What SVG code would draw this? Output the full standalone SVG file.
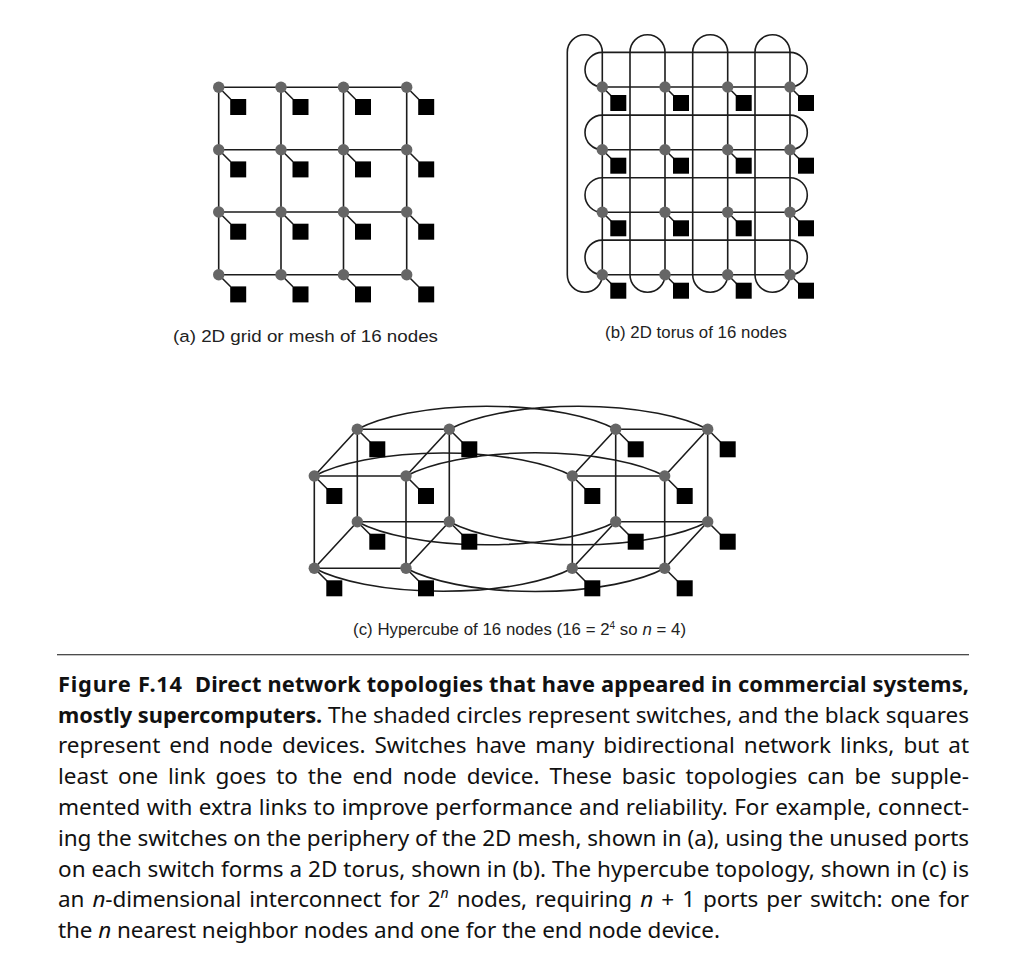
<svg xmlns="http://www.w3.org/2000/svg" width="1024" height="972" viewBox="0 0 1024 972">
<style>
.l{fill:none;stroke:#1c1c1c;stroke-width:1.6}
.s{fill:#666}
.q{fill:#000}
.lab{font-family:"Liberation Sans",Arial,sans-serif;font-size:16.8px;fill:#222}
.cap{font-family:"Noto Sans",sans-serif;font-size:22.5px;fill:#111}
.b{font-weight:700;font-size:21.8px}
.i{font-style:italic}
</style>
<defs>
<g id="na"><line class="l" x1="0" y1="0" x2="12" y2="12"/><circle class="s" r="5.7"/><rect class="q" x="11.5" y="11.7" width="16" height="16"/></g>
<g id="nb"><line class="l" x1="0" y1="0" x2="9" y2="9"/><circle class="s" r="5.7"/><rect class="q" x="8" y="8" width="16" height="16"/></g>
<g id="nc"><line class="l" x1="0" y1="0" x2="13" y2="13"/><circle class="s" r="5.7"/><rect class="q" x="12" y="12" width="16" height="16"/></g>
</defs>
<rect width="1024" height="972" fill="#fff"/>
<g id="connectors">
<path class="l" d="M218.7,87.3H406.7M218.7,149.7H406.7M218.7,212H406.7M218.7,274.7H406.7M218.7,87.3V274.7M281,87.3V274.7M343.5,87.3V274.7M406.7,87.3V274.7"/>
<path class="l" d="M602.3,87A17.3,17.3 0 0 1 602.3,52.4H790A17.3,17.3 0 0 1 790,87H602.3M602.3,149.7A17.3,17.3 0 0 1 602.3,115.1H790A17.3,17.3 0 0 1 790,149.7H602.3M602.3,212.3A17.3,17.3 0 0 1 602.3,177.7H790A17.3,17.3 0 0 1 790,212.3H602.3M602.3,274.7A17.3,17.3 0 0 1 602.3,240.1H790A17.3,17.3 0 0 1 790,274.7H602.3"/>
<path class="l" d="M602.3,274.7V52.3A17.5,17.5 0 0 0 567.3,52.3V274.7A17.5,17.5 0 0 0 602.3,274.7M665,274.7V52.3A17.5,17.5 0 0 0 630,52.3V274.7A17.5,17.5 0 0 0 665,274.7M727.7,274.7V52.3A17.5,17.5 0 0 0 692.7,52.3V274.7A17.5,17.5 0 0 0 727.7,274.7M790,274.7V52.3A17.5,17.5 0 0 0 755,52.3V274.7A17.5,17.5 0 0 0 790,274.7"/>
<path class="l" d="M357.3,429.3H449.3V521.7H357.3ZM615.7,429.3H707.7V521.7H615.7ZM314.3,476H406V568.3H314.3ZM572.3,476H664.7V568.3H572.3Z"/>
<path class="l" d="M357.3,429.3L314.3,476M449.3,429.3L406,476M357.3,521.7L314.3,568.3M449.3,521.7L406,568.3M615.7,429.3L572.3,476M707.7,429.3L664.7,476M615.7,521.7L572.3,568.3M707.7,521.7L664.7,568.3"/>
<path class="l" d="M357.3,429.3A150,47 0 0 1 615.7,429.3M449.3,429.3A150,47 0 0 1 707.7,429.3M314.3,476A150,47 0 0 1 572.3,476M406,476A150,47 0 0 1 664.7,476"/>
<path class="l" d="M357.3,521.7A150,47 0 0 0 615.7,521.7M449.3,521.7A150,47 0 0 0 707.7,521.7M314.3,568.3A150,47 0 0 0 572.3,568.3M406,568.3A150,47 0 0 0 664.7,568.3"/>
</g>
<g id="a00" transform="translate(218.7,87.3)"><use href="#na"/></g>
<g id="a01" transform="translate(281,87.3)"><use href="#na"/></g>
<g id="a02" transform="translate(343.5,87.3)"><use href="#na"/></g>
<g id="a03" transform="translate(406.7,87.3)"><use href="#na"/></g>
<g id="a10" transform="translate(218.7,149.7)"><use href="#na"/></g>
<g id="a11" transform="translate(281,149.7)"><use href="#na"/></g>
<g id="a12" transform="translate(343.5,149.7)"><use href="#na"/></g>
<g id="a13" transform="translate(406.7,149.7)"><use href="#na"/></g>
<g id="a20" transform="translate(218.7,212)"><use href="#na"/></g>
<g id="a21" transform="translate(281,212)"><use href="#na"/></g>
<g id="a22" transform="translate(343.5,212)"><use href="#na"/></g>
<g id="a23" transform="translate(406.7,212)"><use href="#na"/></g>
<g id="a30" transform="translate(218.7,274.7)"><use href="#na"/></g>
<g id="a31" transform="translate(281,274.7)"><use href="#na"/></g>
<g id="a32" transform="translate(343.5,274.7)"><use href="#na"/></g>
<g id="a33" transform="translate(406.7,274.7)"><use href="#na"/></g>
<g id="b00" transform="translate(602.3,87)"><use href="#nb"/></g>
<g id="b01" transform="translate(665,87)"><use href="#nb"/></g>
<g id="b02" transform="translate(727.7,87)"><use href="#nb"/></g>
<g id="b03" transform="translate(790,87)"><use href="#nb"/></g>
<g id="b10" transform="translate(602.3,149.7)"><use href="#nb"/></g>
<g id="b11" transform="translate(665,149.7)"><use href="#nb"/></g>
<g id="b12" transform="translate(727.7,149.7)"><use href="#nb"/></g>
<g id="b13" transform="translate(790,149.7)"><use href="#nb"/></g>
<g id="b20" transform="translate(602.3,212.3)"><use href="#nb"/></g>
<g id="b21" transform="translate(665,212.3)"><use href="#nb"/></g>
<g id="b22" transform="translate(727.7,212.3)"><use href="#nb"/></g>
<g id="b23" transform="translate(790,212.3)"><use href="#nb"/></g>
<g id="b30" transform="translate(602.3,274.7)"><use href="#nb"/></g>
<g id="b31" transform="translate(665,274.7)"><use href="#nb"/></g>
<g id="b32" transform="translate(727.7,274.7)"><use href="#nb"/></g>
<g id="b33" transform="translate(790,274.7)"><use href="#nb"/></g>
<g id="c00" transform="translate(357.3,429.3)"><use href="#nc"/></g>
<g id="c01" transform="translate(449.3,429.3)"><use href="#nc"/></g>
<g id="c02" transform="translate(615.7,429.3)"><use href="#nc"/></g>
<g id="c03" transform="translate(707.7,429.3)"><use href="#nc"/></g>
<g id="c10" transform="translate(314.3,476)"><use href="#nc"/></g>
<g id="c11" transform="translate(406,476)"><use href="#nc"/></g>
<g id="c12" transform="translate(572.3,476)"><use href="#nc"/></g>
<g id="c13" transform="translate(664.7,476)"><use href="#nc"/></g>
<g id="c20" transform="translate(357.3,521.7)"><use href="#nc"/></g>
<g id="c21" transform="translate(449.3,521.7)"><use href="#nc"/></g>
<g id="c22" transform="translate(615.7,521.7)"><use href="#nc"/></g>
<g id="c23" transform="translate(707.7,521.7)"><use href="#nc"/></g>
<g id="c30" transform="translate(314.3,568.3)"><use href="#nc"/></g>
<g id="c31" transform="translate(406,568.3)"><use href="#nc"/></g>
<g id="c32" transform="translate(572.3,568.3)"><use href="#nc"/></g>
<g id="c33" transform="translate(664.7,568.3)"><use href="#nc"/></g>
<text class="lab" x="173" y="342" textLength="265" lengthAdjust="spacingAndGlyphs">(a) 2D grid or mesh of 16 nodes</text>
<text class="lab" x="605" y="338" textLength="182">(b) 2D torus of 16 nodes</text>
<text class="lab" x="353" y="634.5" textLength="333">(c) Hypercube of 16 nodes (16 = 2<tspan font-size="10" dy="-6">4</tspan><tspan dy="6"> so </tspan><tspan class="i">n</tspan> = 4)</text>
<line x1="57" y1="654.7" x2="969" y2="654.7" stroke="#111" stroke-width="1.1"/>
<text class="cap b" x="58" y="691.7" textLength="124">Figure F.14</text>
<text class="cap b" x="195" y="691.7" textLength="774">Direct network topologies that have appeared in commercial systems,</text>
<text class="cap" x="58" y="722.5" textLength="911"><tspan class="b">mostly supercomputers.</tspan> The shaded circles represent switches, and the black squares</text>
<text class="cap" x="58" y="753.3" textLength="911" word-spacing="3.2">represent end node devices. Switches have many bidirectional network links, but at</text>
<text class="cap" x="58" y="784.1" textLength="911" word-spacing="4">least one link goes to the end node device. These basic topologies can be supple-</text>
<text class="cap" x="58" y="815" textLength="911" word-spacing="0.5">mented with extra links to improve performance and reliability. For example, connect-</text>
<text class="cap" x="58" y="845.8" textLength="911">ing the switches on the periphery of the 2D mesh, shown in (a), using the unused ports</text>
<text class="cap" x="58" y="876.6" textLength="911">on each switch forms a 2D torus, shown in (b). The hypercube topology, shown in (c) is</text>
<text class="cap" x="58" y="907.4" textLength="911" word-spacing="2.4">an <tspan class="i">n</tspan>-dimensional interconnect for 2<tspan font-size="14" dy="-9" class="i">n</tspan><tspan dy="9"> nodes, requiring </tspan><tspan class="i">n</tspan> + 1 ports per switch: one for</text>
<text class="cap" x="58" y="938.2" textLength="662">the <tspan class="i">n</tspan> nearest neighbor nodes and one for the end node device.</text>
</svg>
